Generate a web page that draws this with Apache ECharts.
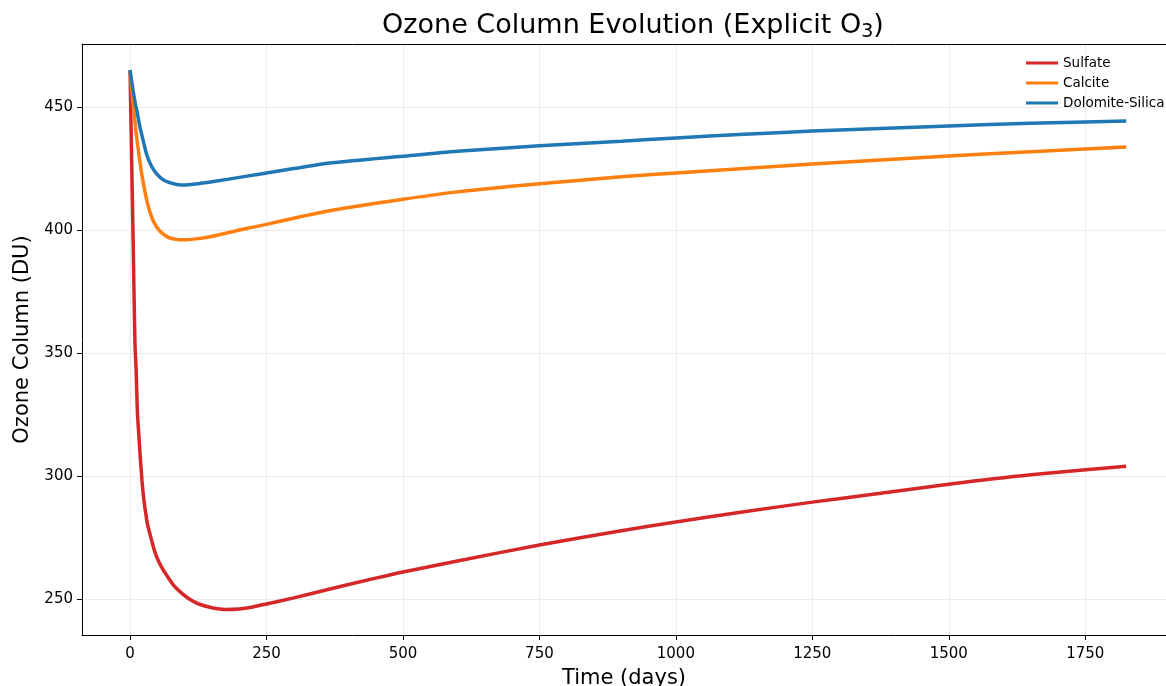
<!DOCTYPE html>
<html>
<head>
<meta charset="utf-8">
<script src="https://cdn.jsdelivr.net/npm/echarts@6/dist/echarts.min.js"></script>
<style>
  html, body { margin: 0; padding: 0; background: #fff; }
  #chart { width: 1166px; height: 686px; }
</style>
</head>
<body>
<div id="chart"></div>
<script>
    // values
    var sulfateT = [0, 3, 6, 9, 11, 13.5, 16, 18, 22, 25, 30, 33, 40, 45, 50, 57, 65, 80, 95, 110, 126, 150, 175, 200, 225, 250, 300, 370, 450, 500, 600, 750, 900, 1000, 1125, 1250, 1375, 1500, 1650, 1825];
    var sulfateV = [465, 428, 392, 354, 344, 326, 317, 310, 298, 291, 283, 279.5, 273.5, 269.5, 266.5, 263.3, 260.4, 255.6, 252.3, 249.8, 248, 246.5, 245.8, 246, 246.8, 248, 250.5, 254.3, 258.5, 261, 265.5, 272, 277.8, 281.3, 285.5, 289.4, 293, 296.7, 300.5, 304];

    var calciteT = [0, 2, 5, 10, 14, 18, 22, 27, 33, 43, 55, 70, 85, 95, 125, 156, 217, 250, 300, 370, 500, 600, 750, 900, 1000, 1125, 1250, 1375, 1500, 1650, 1825];
    var calciteV = [465, 460, 453, 442, 434.5, 428, 422, 416, 410, 403.5, 399.5, 397, 396.2, 396, 396.5, 397.7, 400.8, 402.3, 404.8, 408, 412.5, 415.5, 418.8, 421.6, 423.2, 425, 426.8, 428.5, 430.1, 431.8, 433.7];

    var dolomiteT = [0, 2, 5, 10, 13, 18, 25, 30, 38, 48, 62, 80, 95, 125, 156, 217, 250, 300, 370, 500, 600, 750, 900, 1000, 1125, 1250, 1375, 1500, 1650, 1825];
    var dolomiteV = [465, 462, 457.5, 451, 448, 442, 435.5, 431, 426.5, 423, 420.2, 418.8, 418.3, 418.8, 419.8, 422, 423.2, 425, 427.3, 430, 432, 434.2, 436.1, 437.4, 438.9, 440.2, 441.3, 442.3, 443.4, 444.3];

    var xTicks = [0, 250, 500, 750, 1000, 1250, 1500, 1750];
    var yTicks = [250, 300, 350, 400, 450];

    function pairs(t, v) {
        var out = [];
        for (var i = 0; i < t.length; i++) out.push([t[i], v[i]]);
        return out;
    }

    var font = 'DejaVu Sans';
    var chart = echarts.init(document.getElementById('chart'));

    var option = {
        backgroundColor: '#fff',
        animation: false,
        title: {
            text: '{t|Ozone Column Evolution (Explicit O}{s|3}{t|)}',
            left: 628,
            textAlign: 'center',
            top: 5,
            textStyle: {
                fontWeight: 'normal',
                rich: {
                    t: { fontFamily: font, fontSize: 27, fontWeight: 'normal', color: '#000', lineHeight: 32 },
                    s: { fontFamily: font, fontSize: 19, fontWeight: 'normal', color: '#000', lineHeight: 32, verticalAlign: 'bottom', padding: [12, 0, 0, 0] }
                }
            }
        },
        legend: {
            orient: 'vertical',
            left: 1021,
            top: 51,
            icon: 'rect',
            itemWidth: 32,
            itemHeight: 3,
            itemGap: 6,
            textStyle: { fontFamily: font, fontSize: 13.5, color: '#000' },
            data: ['Sulfate', 'Calcite', 'Dolomite-Silica']
        },
        grid: { left: 82, right: 0, top: 44, bottom: 51, outerBoundsMode: 'none', containLabel: false },
        xAxis: [{
            type: 'value',
            min: -88,
            max: 1898,
            name: 'Time (days)',
            nameLocation: 'middle',
            nameGap: 33,
            nameTextStyle: { fontFamily: font, fontSize: 21, color: '#000' },
            axisLine: { show: true, onZero: false, lineStyle: { color: '#000', width: 1 } },
            axisTick: { show: true, length: 5, lineStyle: { color: '#000' }, customValues: xTicks },
            axisLabel: {
                fontFamily: font, fontSize: 15, color: '#000', margin: 12,
                customValues: xTicks,
                formatter: function (v) { return String(v); }
            },
            splitLine: { show: true, lineStyle: { color: '#ebebeb', width: 1 } }
        }, {
            type: 'value',
            position: 'top',
            min: -88,
            max: 1898,
            axisLine: { show: true, onZero: false, lineStyle: { color: '#000', width: 1 } },
            axisTick: { show: false },
            axisLabel: { show: false },
            splitLine: { show: false }
        }],
        yAxis: {
            type: 'value',
            min: 235.4,
            max: 475.6,
            name: 'Ozone Column (DU)',
            nameLocation: 'middle',
            nameGap: 48,
            nameTextStyle: { fontFamily: font, fontSize: 21, color: '#000' },
            axisLine: { show: true, onZero: false, lineStyle: { color: '#000', width: 1 } },
            axisTick: { show: true, length: 5, lineStyle: { color: '#000' }, customValues: yTicks },
            axisLabel: { fontFamily: font, fontSize: 15, color: '#000', margin: 9, customValues: yTicks },
            splitLine: { show: true, lineStyle: { color: '#ebebeb', width: 1 } }
        },
        series: [{
            name: 'Sulfate',
            type: 'line',
            data: pairs(sulfateT, sulfateV),
            showSymbol: false,
            smooth: 0.25,
            color: '#d62728',
            lineStyle: { width: 3.5, color: '#d62728' },
            z: 3
        }, {
            name: 'Calcite',
            type: 'line',
            data: pairs(calciteT, calciteV),
            showSymbol: false,
            smooth: 0.25,
            color: '#ff7f0e',
            lineStyle: { width: 3.5, color: '#ff7f0e' },
            z: 4
        }, {
            name: 'Dolomite-Silica',
            type: 'line',
            data: pairs(dolomiteT, dolomiteV),
            showSymbol: false,
            smooth: 0.25,
            color: '#1f77b4',
            lineStyle: { width: 3.5, color: '#1f77b4' },
            z: 5
        }]
    };
    chart.setOption(option);
</script>
</body>
</html>
